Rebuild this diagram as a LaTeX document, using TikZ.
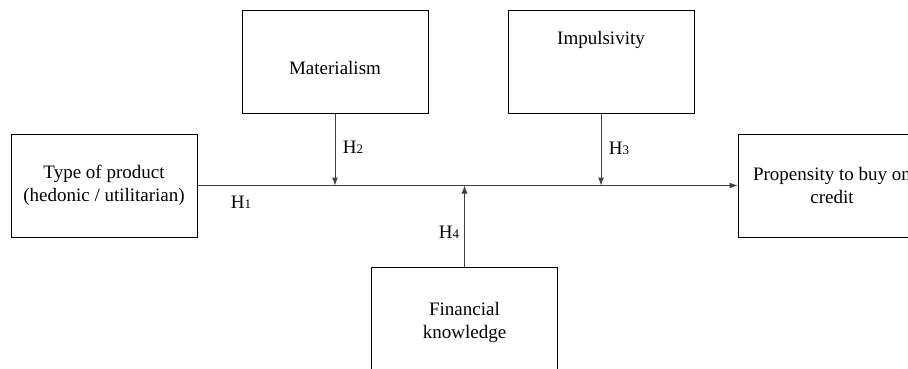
\documentclass[tikz,border=0pt]{standalone}
\usepackage{fontspec}
\setmainfont{Liberation Serif}
\usetikzlibrary{arrows.meta}
\newcommand{\hyp}[1]{H{\fontsize{13}{15}\selectfont #1}}
\begin{document}
\begin{tikzpicture}[x=1pt,y=-1pt,
    box/.style={draw, line width=0.9pt, minimum width=186pt, minimum height=103pt,
      align=center, inner sep=0pt, font=\fontsize{19}{23}\selectfont},
    lbl/.style={inner sep=0pt, font=\fontsize{19}{23}\selectfont},
    arr/.style={black!75, line width=1pt, -{Latex[length=8pt,width=6pt]}}]
  \useasboundingbox (0,0) rectangle (908,369);
  % boxes
  \node[box] (type) at (104,185.5) {Type of product\\(hedonic / utilitarian)};
  \node[box] (mat) at (335,62) {};
  \node[lbl] (matt) at (335,68) {Materialism};
  \node[box] (imp) at (601,62) {};
  \node[lbl] (impt) at (601,40) {Impulsivity};
  \node[box, minimum width=188pt] (prop) at (832,185.5) {Propensity to buy on\\credit};
  \node[box, minimum height=110pt] (fin) at (464.5,322) {Financial\\knowledge};
  % paths
  \draw[arr] (type.east) -- (prop.west);
  \draw[arr] (mat.south) -- (mat.south |- type.east);
  \draw[arr] (imp.south) -- (imp.south |- type.east);
  \draw[arr] (fin.north) -- (fin.north |- type.east);
  % hypotheses
  \node[lbl] (h1) at (241,202) {\hyp{1}};
  \node[lbl] (h2) at (353,147) {\hyp{2}};
  \node[lbl] (h3) at (619,148) {\hyp{3}};
  \node[lbl] (h4) at (449,232) {\hyp{4}};
\end{tikzpicture}
\end{document}
